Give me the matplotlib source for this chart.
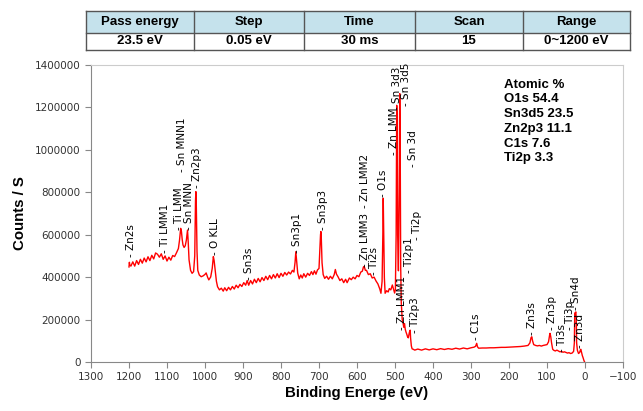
import matplotlib.pyplot as plt
from matplotlib.patches import Rectangle

# survey spectrum: (binding energy eV, counts/s in thousands)
espectro = [
    (1200, 448), (1199, 470), (1198, 458), (1195, 452), (1190, 472), (1185, 452),
    (1180, 478), (1175, 460), (1170, 484), (1165, 466), (1160, 490), (1155, 472),
    (1150, 496), (1145, 478), (1140, 503), (1135, 486), (1130, 514), (1125, 508),
    (1120, 494), (1115, 510), (1110, 484), (1105, 500), (1100, 476), (1095, 494),
    (1090, 480), (1085, 502), (1080, 497), (1075, 515), (1070, 535), (1067, 575),
    (1064, 630), (1062, 615), (1060, 578), (1058, 552), (1055, 540), (1052, 548),
    (1049, 575), (1046, 622), (1044, 560), (1042, 482), (1038, 432), (1034, 418),
    (1030, 426), (1027, 500), (1025, 760), (1024, 803), (1023, 755), (1021, 520),
    (1019, 432), (1015, 410), (1010, 402), (1005, 406), (1000, 413), (997, 420),
    (993, 399), (990, 387), (985, 401), (981, 441), (978, 497), (976, 478),
    (973, 428), (970, 381), (967, 355), (962, 340), (957, 348), (952, 334),
    (948, 350), (943, 336), (938, 352), (933, 340), (928, 356), (923, 344),
    (918, 362), (913, 350), (908, 366), (903, 356), (898, 374), (893, 362),
    (889, 384), (885, 362), (880, 384), (875, 368), (870, 390), (865, 374),
    (860, 394), (855, 378), (850, 398), (845, 384), (840, 404), (835, 388),
    (830, 408), (825, 392), (820, 412), (815, 396), (810, 416), (805, 398),
    (800, 418), (795, 404), (790, 422), (785, 410), (780, 424), (775, 415),
    (770, 432), (766, 424), (763, 470), (761, 520), (759, 478), (756, 419),
    (752, 392), (748, 410), (744, 396), (740, 416), (735, 400), (730, 418),
    (725, 408), (720, 426), (716, 412), (712, 430), (708, 414), (704, 434),
    (700, 441), (698, 520), (696, 600), (695, 615), (694, 588), (692, 468),
    (689, 412), (685, 394), (680, 404), (675, 390), (670, 404), (665, 392),
    (660, 412), (657, 436), (654, 414), (650, 402), (645, 384), (640, 392),
    (635, 374), (630, 390), (626, 374), (620, 396), (615, 388), (610, 400),
    (605, 392), (600, 408), (595, 402), (590, 424), (586, 428), (583, 448),
    (581, 450), (578, 432), (575, 432), (570, 412), (565, 416), (560, 396),
    (555, 400), (550, 382), (545, 368), (540, 344), (537, 324), (534, 380),
    (532, 600), (531, 772), (530, 648), (528, 398), (526, 324), (522, 336),
    (518, 330), (515, 346), (511, 340), (507, 363), (504, 344), (501, 325),
    (499, 341), (497, 600), (495.5, 1210), (494.5, 1150), (493, 600), (491, 430),
    (489, 800), (487.5, 1265), (486.5, 1100), (485, 450), (483.5, 280), (481, 200),
    (479, 186), (477, 164), (475, 181), (473, 154), (471, 141), (469, 131),
    (467, 119), (465, 114), (462, 141), (460, 150), (459, 114), (457, 76),
    (455, 62), (452, 60), (448, 56), (440, 61), (430, 56), (420, 62),
    (410, 57), (400, 62), (390, 58), (380, 63), (370, 59), (360, 63),
    (350, 60), (340, 65), (330, 61), (320, 66), (310, 62), (300, 67),
    (292, 70), (288, 74), (285, 88), (283, 72), (280, 65), (270, 66),
    (260, 66), (250, 67), (240, 67), (230, 68), (220, 69), (210, 69),
    (200, 70), (190, 71), (180, 72), (170, 73), (160, 75), (150, 78),
    (145, 90), (142, 115), (140, 119), (138, 100), (135, 82), (130, 78),
    (125, 76), (120, 78), (115, 75), (110, 78), (105, 80), (100, 82),
    (96, 95), (93, 128), (92, 135), (90, 118), (88, 90), (85, 60),
    (82, 55), (78, 52), (74, 56), (70, 52), (66, 48), (62, 50),
    (58, 46), (54, 48), (50, 45), (46, 42), (42, 44), (38, 40),
    (34, 42), (30, 50), (28, 90), (27, 230), (24, 236), (23, 200),
    (22, 90), (20, 55), (17, 40), (14, 45), (12, 58), (11, 60),
    (9, 45), (7, 30), (5, 20), (3, 8), (1, 0),
]
energia = [e for e, c in espectro]
contagem = [c * 1000 for e, c in espectro]

# peak labels: text, energy and height (thousands) where the label starts
picos = ["- Zn2s", "- Ti LMM1", "- Ti LMM", "- Sn MNN1", "- Sn MNN", "- Zn2p3", "- O KLL",
         "- Sn3s", "- Sn3p1", "- Sn3p3", "- Zn LMM3", "- Zn LMM2", "- Ti2s", "- O1s",
         "- Zn LMM", "- Sn 3d3", "- Sn 3d5", "- Sn 3d", "- Ti2p", "- Ti2p1", "- Zn LMM1",
         "- Ti2p3", "- C1s", "- Zn3s", "- Zn3p", "- Ti3s", "- Ti3p", "- Sn4d", "- Zn3d"]
picoE = [1196, 1104, 1069, 1060, 1043, 1021, 975, 885, 757, 690, 579, 579, 555, 531,
         503, 496, 470, 452, 441, 464, 481, 448, 286, 139, 87, 60, 39, 24, 12]
picoY = [496, 514, 621, 894, 621, 819, 504, 386, 513, 621, 448, 725, 409, 778,
         974, 1186, 1205, 919, 574, 419, 151, 136, 104, 127, 151, 48, 151, 245, 64]

# acquisition settings table
cabecalho = ["Pass energy", "Step", "Time", "Scan", "Range"]
valores = ["23.5 eV", "0.05 eV", "30 ms", "15", "0~1200 eV"]

atomico = ["Atomic %", "O1s 54.4", "Sn3d5 23.5", "Zn2p3 11.1", "C1s 7.6", "Ti2p 3.3"]

W, H = 643, 411
fig = plt.figure(figsize=(W / 100, H / 100), dpi=100)

ax = fig.add_axes([91 / W, 49 / H, 532 / W, 297 / H])
ax.plot(energia, contagem, color='#ff0000', lw=1.0)

for nome, e, y in zip(picos, picoE, picoY):
    ax.text(e, y * 1000, nome, rotation=90, ha='center', va='bottom', fontsize=7.5,
            color='black')

ax.text(214, 1335000, "\n".join(atomico), ha='left', va='top', fontsize=9.5,
        fontweight='bold', linespacing=1.3, family='Liberation Sans')

ax.set_xlim(1300, -100)
ax.set_ylim(0, 1400000)
ax.set_xticks(range(1300, -101, -100))
ax.set_yticks(range(0, 1400001, 200000))
ax.ticklabel_format(axis='y', style='plain', useOffset=False)
ax.tick_params(labelsize=7.5, labelcolor='#333333', color='#888888', length=4, width=0.8)
for lado in ['left', 'bottom']:
    ax.spines[lado].set_color('#888888')
for lado in ['top', 'right']:
    ax.spines[lado].set_color('#cccccc')

fig.text(20 / W, 1 - 213 / H, "Counts / S", rotation=90, ha='center', va='center',
         fontsize=10.8, fontweight='bold', family='Liberation Sans')
fig.text(357 / W, 1 - 393 / H, "Binding Energe (eV)", ha='center', va='center',
         fontsize=10.8, fontweight='bold', family='Liberation Sans')

# table drawn in pixel coordinates
tab = fig.add_axes([0, 0, 1, 1], zorder=5)
tab.set_xlim(0, W)
tab.set_ylim(H, 0)
tab.axis('off')
colunas = [86, 194, 304, 415, 523, 630]
linhas = [11, 33, 50]
tab.add_patch(Rectangle((colunas[0], linhas[0]), colunas[-1] - colunas[0], linhas[1] - linhas[0],
                        facecolor='#c5e2ec', edgecolor='none'))
for xc in colunas:
    tab.plot([xc, xc], [linhas[0], linhas[-1]], color='#555555', lw=1)
for yl in linhas:
    tab.plot([colunas[0], colunas[-1]], [yl, yl], color='#555555', lw=1)
for i in range(5):
    xm = (colunas[i] + colunas[i + 1]) / 2
    tab.text(xm, (linhas[0] + linhas[1]) / 2, cabecalho[i], ha='center', va='center',
             fontsize=9.5, fontweight='bold', family='Liberation Sans')
    tab.text(xm, (linhas[1] + linhas[2]) / 2, valores[i], ha='center', va='center',
             fontsize=9.5, fontweight='bold', family='Liberation Sans')

plt.savefig('out.png', dpi=100)
